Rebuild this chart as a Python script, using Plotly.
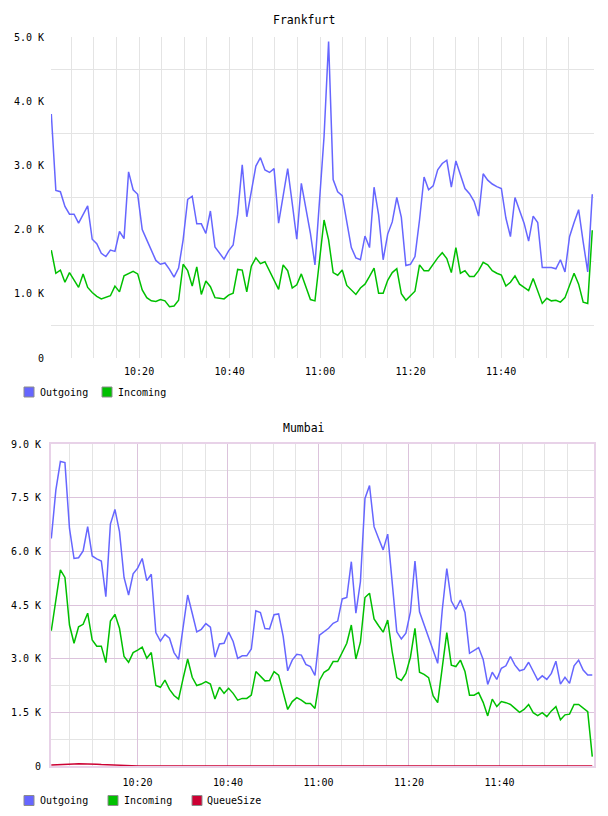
import plotly.graph_objects as go
import pandas as pd

# ---------------- data ----------------
fra_start, fra_end = "2024-01-01 10:00:36", "2024-01-01 12:00:09"
mum_start, mum_end = "2024-01-01 10:00:58", "2024-01-01 12:00:31"
n_points = 120

fra_outgoing = [3800, 2610, 2590, 2360, 2240, 2240, 2100, 2230, 2370, 1850,
                1780, 1630, 1580, 1680, 1660, 1970, 1860, 2900, 2620, 2550,
                2000, 1840, 1670, 1520, 1460, 1480, 1380, 1260, 1400, 1840,
                2470, 2520, 2090, 2090, 1940, 2290, 1730, 1640, 1540, 1670,
                1760, 2240, 3010, 2200, 2620, 2990, 3120, 2930, 2890, 2950,
                2100, 2510, 2950, 2410, 1850, 2720, 2360, 1940, 1450, 2410,
                3450, 4930, 2780, 2590, 2530, 2120, 1720, 1560, 1530, 1900,
                1720, 2660, 2230, 1530, 1930, 2120, 2500, 2190, 1440, 1460,
                1580, 2150, 2820, 2620, 2680, 2930, 3030, 3080, 2660, 3070,
                2860, 2640, 2560, 2440, 2210, 2870, 2770, 2710, 2670, 2640,
                2180, 1890, 2500, 2310, 2100, 1820, 2210, 2110, 1410, 1410,
                1410, 1390, 1530, 1340, 1890, 2110, 2310, 1810, 1340, 2550]

fra_incoming = [1680, 1320, 1370, 1180, 1330, 1210, 1100, 1310, 1100, 1020,
                960, 920, 940, 970, 1120, 1030, 1280, 1310, 1350, 1310,
                1060, 940, 890, 880, 910, 890, 800, 810, 900, 1460,
                1360, 1120, 1420, 990, 1200, 1110, 940, 930, 920, 980,
                1010, 1380, 1370, 1030, 1430, 1560, 1470, 1500, 1360, 1210,
                1070, 1450, 1360, 1090, 1140, 1310, 1120, 910, 890, 1500,
                2150, 1840, 1330, 1290, 1370, 1130, 1060, 990, 1090, 1150,
                1270, 1400, 1010, 1010, 1210, 1330, 1390, 1000, 900, 970,
                1040, 1450, 1360, 1360, 1470, 1560, 1640, 1550, 1330, 1720,
                1320, 1360, 1270, 1270, 1360, 1490, 1450, 1360, 1320, 1290,
                1120, 1180, 1280, 1150, 1100, 1050, 1240, 1040, 850, 930,
                890, 900, 870, 940, 1140, 1320, 1150, 870, 850, 1990]

mum_outgoing = [6360, 7710, 8510, 8480, 6640, 5800, 5820, 6010, 6690, 5870,
                5790, 5730, 4730, 6760, 7170, 6550, 5270, 4780, 5370, 5530,
                5800, 5180, 5360, 3730, 3490, 3680, 3570, 3170, 2980, 3850,
                4780, 4270, 3750, 3820, 3980, 3880, 3040, 3410, 3430, 3740,
                3480, 3010, 3080, 3080, 3270, 4340, 4290, 3840, 3830, 4230,
                4250, 3630, 2660, 2960, 3120, 3100, 2840, 2780, 2530, 3660,
                3750, 3850, 3990, 4050, 4670, 4710, 5710, 4270, 5150, 7480,
                7840, 6690, 6360, 6040, 6480, 5200, 3750, 3550, 3710, 4310,
                5730, 4310, 3940, 3620, 3200, 2870, 4360, 5520, 4610, 4380,
                4640, 4290, 3150, 3220, 3310, 2980, 2280, 2620, 2420, 2730,
                2800, 3060, 2820, 2660, 2700, 2900, 2660, 2400, 2520, 2420,
                2590, 2930, 2290, 2480, 2310, 2800, 2960, 2680, 2540, 2540]

mum_incoming = [3780, 4640, 5480, 5270, 3940, 3430, 3890, 3960, 4270, 3520,
                3350, 3350, 2890, 4050, 4240, 3850, 3060, 2900, 3170, 3240,
                3320, 3010, 3170, 2250, 2200, 2400, 2140, 1970, 1870, 2450,
                2990, 2480, 2250, 2290, 2360, 2290, 1870, 2200, 2030, 2170,
                2030, 1840, 1890, 1890, 1980, 2640, 2520, 2380, 2390, 2640,
                2540, 2030, 1580, 1800, 1910, 1840, 1750, 1750, 1610, 2390,
                2620, 2700, 2920, 2920, 3200, 3430, 3940, 2990, 3460, 4710,
                4830, 4110, 3920, 3740, 4080, 3180, 2470, 2390, 2590, 3040,
                3850, 2620, 2560, 2470, 1960, 1770, 2750, 3730, 2820, 2780,
                2960, 2640, 1980, 1980, 2050, 1780, 1400, 1870, 1660, 1800,
                1770, 1720, 1610, 1500, 1580, 1720, 1490, 1410, 1490, 1380,
                1540, 1660, 1290, 1430, 1450, 1720, 1720, 1630, 1520, 260]

mum_queue = [25, 35, 45, 52, 55, 58, 60, 62, 60, 55,
             50, 42, 35, 30, 25, 18, 12, 8, 5, 3,
             2, 1, 0, 0, 0, 0, 0, 0, 0, 0,
             0, 0, 0, 0, 0, 0, 0, 0, 0, 0,
             0, 0, 0, 0, 0, 0, 0, 0, 0, 0,
             0, 0, 0, 0, 0, 0, 0, 0, 0, 0,
             0, 0, 0, 0, 0, 4, 8, 4, 0, 0,
             0, 0, 0, 0, 0, 0, 0, 0, 0, 5,
             12, 5, 0, 0, 0, 0, 5, 10, 5, 0,
             0, 0, 0, 0, 0, 0, 0, 0, 0, 3,
             8, 3, 0, 0, 0, 0, 0, 0, 0, 0,
             0, 0, 0, 0, 0, 0, 0, 0, 0, 0]

x_tick_labels = ["10:20", "10:40", "11:00", "11:20", "11:40"]
fra_y_ticks = [0, 1000, 2000, 3000, 4000, 5000]
fra_y_labels = ["0", "1.0 K", "2.0 K", "3.0 K", "4.0 K", "5.0 K"]
mum_y_ticks = [0, 1500, 3000, 4500, 6000, 7500, 9000]
mum_y_labels = ["0", "1.5 K", "3.0 K", "4.5 K", "6.0 K", "7.5 K", "9.0 K"]

# ---------------- styling ----------------
C_OUT = "#6666FF"
C_IN = "#00C000"
C_Q = "#CC0033"
FONT = "DejaVu Sans Mono"
W, H = 608, 816
ML, MR, MT, MB = 51, 14, 37, 50
PW, PH = W - ML - MR, H - MT - MB


def px_x(x):
    return (x - ML) / PW


def px_y(y):
    return 1 - (y - MT) / PH


fra_t = pd.date_range(fra_start, fra_end, periods=n_points)
mum_t = pd.date_range(mum_start, mum_end, periods=n_points)

day = "2024-01-01 "
major_x = [day + t for t in x_tick_labels]
minor_x = [pd.Timestamp(day + "10:00") + pd.Timedelta(minutes=m) for m in range(5, 120, 5)]

fig = go.Figure()
line_w = 1.5
fig.add_trace(go.Scatter(x=fra_t, y=fra_outgoing, mode="lines", line=dict(color=C_OUT, width=line_w),
                         xaxis="x", yaxis="y", showlegend=False))
fig.add_trace(go.Scatter(x=fra_t, y=fra_incoming, mode="lines", line=dict(color=C_IN, width=line_w),
                         xaxis="x", yaxis="y", showlegend=False))
fig.add_trace(go.Scatter(x=mum_t, y=mum_outgoing, mode="lines", line=dict(color=C_OUT, width=line_w),
                         xaxis="x2", yaxis="y2", showlegend=False))
fig.add_trace(go.Scatter(x=mum_t, y=mum_incoming, mode="lines", line=dict(color=C_IN, width=line_w),
                         xaxis="x2", yaxis="y2", showlegend=False))
fig.add_trace(go.Scatter(x=mum_t, y=mum_queue, mode="lines", line=dict(color=C_Q, width=line_w),
                         xaxis="x2", yaxis="y2", showlegend=False))

tickfont = dict(family=FONT, size=10, color="#000")
GRID = "#E4E4E4"
PURPLE = "#DCC3DC"
BORDER = "#E8D2E8"

top_dom = [px_y(358), 1]
bot_dom = [0, px_y(444)]

fig.update_layout(
    width=W, height=H, autosize=False,
    margin=dict(l=ML, r=MR, t=MT, b=MB),
    paper_bgcolor="white", plot_bgcolor="white",
    showlegend=False,
    xaxis=dict(domain=[0, 1], anchor="y", type="date",
               range=["2024-01-01 10:00:32", "2024-01-01 12:00:32"],
               tickmode="array", tickvals=major_x, ticktext=x_tick_labels,
               showgrid=True, gridcolor=GRID, gridwidth=1, ticks="", tickfont=tickfont,
               ticklabelstandoff=6, showline=False, zeroline=False,
               minor=dict(tickmode="array", tickvals=minor_x, showgrid=True, gridcolor=GRID, ticks="")),
    yaxis=dict(domain=top_dom, anchor="x", range=[0, 5000],
               tickmode="array", tickvals=fra_y_ticks, ticktext=fra_y_labels,
               showgrid=False, ticks="", tickfont=tickfont, ticklabelstandoff=6,
               showline=False, zeroline=False,
               minor=dict(tickmode="array", tickvals=[500, 1500, 2500, 3500, 4500],
                          showgrid=True, gridcolor=GRID, ticks="")),
    xaxis2=dict(domain=[0, 1], anchor="y2", type="date",
                range=["2024-01-01 10:00:54", "2024-01-01 12:00:54"],
                tickmode="array", tickvals=major_x, ticktext=x_tick_labels,
                showgrid=True, gridcolor=PURPLE, gridwidth=1, ticks="", tickfont=tickfont,
                ticklabelstandoff=6, showline=True, linecolor=BORDER, linewidth=2, mirror=True,
                zeroline=False,
                minor=dict(tickmode="array", tickvals=minor_x, showgrid=True, gridcolor=GRID, ticks="")),
    yaxis2=dict(domain=bot_dom, anchor="x2", range=[0, 9000],
                tickmode="array", tickvals=mum_y_ticks, ticktext=mum_y_labels,
                showgrid=True, gridcolor=PURPLE, ticks="", tickfont=tickfont, ticklabelstandoff=6,
                showline=True, linecolor=BORDER, linewidth=2, mirror=True, zeroline=False,
                minor=dict(tickmode="array", tickvals=[750, 2250, 3750, 5250, 6750, 8250],
                           showgrid=True, gridcolor=GRID, ticks="")),
)

# titles
title_font = dict(family=FONT, size=11.5, color="#000")
fig.add_annotation(text="Frankfurt", x=px_x(304), y=px_y(20), xref="paper", yref="paper",
                   showarrow=False, font=title_font, xanchor="center", yanchor="middle")
fig.add_annotation(text="Mumbai", x=px_x(304), y=px_y(428), xref="paper", yref="paper",
                   showarrow=False, font=title_font, xanchor="center", yanchor="middle")

# legends (square swatch + label)
legend_font = dict(family=FONT, size=10, color="#000")


def legend_item(x_sq, x_txt, y_c, color, label):
    fig.add_shape(type="rect", xref="paper", yref="paper",
                  x0=px_x(x_sq), x1=px_x(x_sq + 10), y0=px_y(y_c + 5), y1=px_y(y_c - 5),
                  fillcolor=color, line=dict(color="#8C8C8C", width=1))
    fig.add_annotation(text=label, x=px_x(x_txt), y=px_y(y_c), xref="paper", yref="paper",
                       showarrow=False, font=legend_font, xanchor="left", yanchor="middle")


legend_item(24, 38, 392, C_OUT, "Outgoing")
legend_item(102, 116, 392, C_IN, "Incoming")
legend_item(24, 38, 800.5, C_OUT, "Outgoing")
legend_item(108, 122, 800.5, C_IN, "Incoming")
legend_item(192, 205, 800.5, C_Q, "QueueSize")

fig.write_html("out.html")
